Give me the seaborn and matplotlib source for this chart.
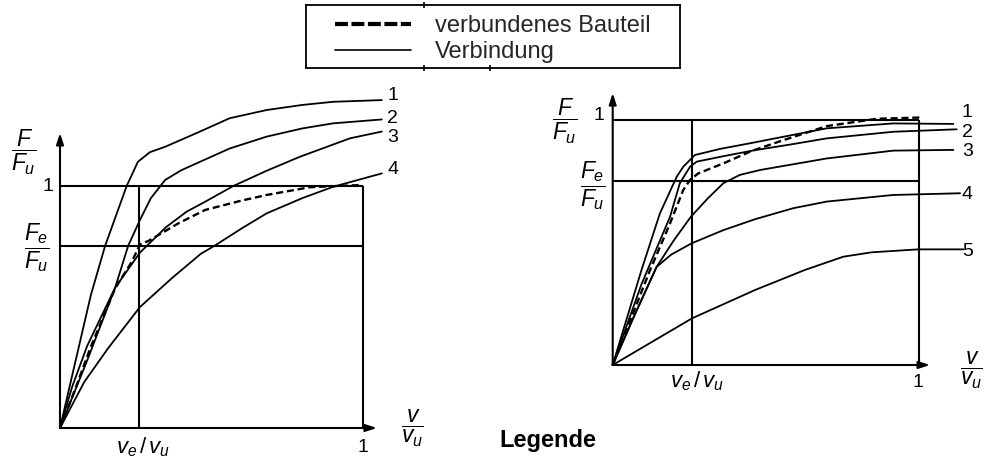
import numpy as np
import pandas as pd
import matplotlib
matplotlib.use("Agg")
import matplotlib.pyplot as plt
from matplotlib.lines import Line2D
import seaborn as sns

sns.set_theme(style="white")
plt.rcParams["font.family"] = ["Liberation Sans", "DejaVu Sans"]
plt.rcParams["mathtext.fontset"] = "custom"
plt.rcParams["mathtext.rm"] = "Liberation Sans"
plt.rcParams["mathtext.it"] = "Liberation Sans:italic"
plt.rcParams["mathtext.bf"] = "Liberation Sans:bold"

# ---- left diagram: load-slip curves of connections 1-4 and the connected member
left_fe = 0.752          # F_e / F_u
left_ve = 0.26           # v_e / v_u
left_x1 = [0, 0.05, 0.102, 0.149, 0.22, 0.257, 0.297, 0.347, 0.462, 0.56, 0.682, 0.80, 0.902, 1.062]
left_y1 = [0, 0.27, 0.55, 0.753, 1.0, 1.10, 1.14, 1.162, 1.225, 1.28, 1.314, 1.335, 1.348, 1.355]
left_x2 = [0, 0.09, 0.182, 0.225, 0.264, 0.30, 0.347, 0.40, 0.462, 0.56, 0.682, 0.80, 0.902, 1.062]
left_y2 = [0, 0.28, 0.58, 0.753, 0.86, 0.95, 1.025, 1.065, 1.10, 1.155, 1.204, 1.238, 1.259, 1.275]
left_x3 = [0, 0.04, 0.09, 0.182, 0.264, 0.35, 0.418, 0.479, 0.572, 0.682, 0.792, 0.957, 1.062]
left_y3 = [0, 0.17, 0.34, 0.58, 0.725, 0.83, 0.894, 0.935, 1.0, 1.063, 1.121, 1.197, 1.225]
left_x4 = [0, 0.08, 0.159, 0.264, 0.37, 0.465, 0.51, 0.60, 0.682, 0.80, 0.902, 1.062]
left_y4 = [0, 0.19, 0.33, 0.50, 0.62, 0.72, 0.753, 0.825, 0.887, 0.95, 0.997, 1.052]
left_xm = [0, 0.05, 0.10, 0.182, 0.237, 0.264, 0.292, 0.391, 0.479, 0.60, 0.682, 0.825, 0.99]
left_ym = [0, 0.16, 0.33, 0.577, 0.687, 0.759, 0.773, 0.846, 0.901, 0.94, 0.963, 0.995, 1.004]
left_labels = ["1", "2", "3", "4"]
left_label_x = [1.100, 1.098, 1.098, 1.098]
left_label_y = [1.372, 1.278, 1.200, 1.069]

# ---- right diagram: connections 1-5 and the connected member
right_fe = 0.751
right_ve = 0.258
right_x1 = [0, 0.094, 0.154, 0.209, 0.23, 0.268, 0.35, 0.448, 0.55, 0.698, 0.915, 1.111]
right_y1 = [0, 0.388, 0.619, 0.769, 0.809, 0.857, 0.882, 0.905, 0.93, 0.966, 0.986, 0.984]
right_x2 = [0, 0.094, 0.187, 0.219, 0.252, 0.274, 0.36, 0.46, 0.58, 0.698, 0.915, 1.122]
right_y2 = [0, 0.33, 0.605, 0.742, 0.809, 0.83, 0.852, 0.876, 0.90, 0.925, 0.952, 0.962]
right_x3 = [0, 0.07, 0.143, 0.20, 0.255, 0.31, 0.361, 0.415, 0.481, 0.698, 0.915, 1.111]
right_y3 = [0, 0.20, 0.40, 0.51, 0.605, 0.68, 0.742, 0.776, 0.796, 0.843, 0.875, 0.878]
right_x4 = [0, 0.07, 0.143, 0.19, 0.258, 0.36, 0.464, 0.589, 0.698, 0.915, 1.133]
right_y4 = [0, 0.20, 0.40, 0.45, 0.497, 0.55, 0.595, 0.64, 0.667, 0.694, 0.701]
right_x5 = [0, 0.258, 0.464, 0.627, 0.752, 0.845, 0.997, 1.144]
right_y5 = [0, 0.19, 0.306, 0.388, 0.442, 0.460, 0.472, 0.472]
right_xm = [0, 0.122, 0.187, 0.23, 0.252, 0.279, 0.361, 0.45, 0.55, 0.698, 0.861, 1.0]
right_ym = [0, 0.388, 0.578, 0.714, 0.755, 0.782, 0.823, 0.872, 0.915, 0.975, 1.005, 1.01]
right_labels = ["1", "2", "3", "4", "5"]
right_label_x = [1.155, 1.157, 1.157, 1.157, 1.157]
right_label_y = [1.030, 0.950, 0.871, 0.694, 0.462]

legend_texts = ["verbundenes Bauteil", "Verbindung"]

W, H = 985, 461
fig = plt.figure(figsize=(W / 100, H / 100), dpi=100)
fig.patch.set_facecolor("white")


def place_axes(ox, oy, sx, sy, xlim, ylim):
    """Axes whose data origin sits at pixel (ox, oy) with sx, sy pixels per unit."""
    l = (ox + xlim[0] * sx) / W
    w = (xlim[1] - xlim[0]) * sx / W
    b = (H - (oy - ylim[0] * sy)) / H
    h = (ylim[1] - ylim[0]) * sy / H
    ax = fig.add_axes([l, b, w, h])
    ax.set_xlim(*xlim)
    ax.set_ylim(*ylim)
    ax.set_axis_off()
    return ax


def frame(ax, fe, ve, x_tip, y_tip):
    kw = dict(color="black", lw=1.5, zorder=1)
    ax.hlines([1.0, fe], 0, 1, **kw)
    ax.vlines([ve, 1.0], 0, 1, **kw)
    arrow = dict(arrowstyle="-|>,head_length=0.55,head_width=0.18", color="black",
                 lw=1.5, shrinkA=0, shrinkB=0, mutation_scale=12)
    ax.annotate("", xy=(x_tip, 0), xytext=(0, 0), arrowprops=arrow)
    ax.annotate("", xy=(0, y_tip), xytext=(0, 0), arrowprops=arrow)


def curves(ax, solid, member):
    for xs, ys in solid:
        d = pd.DataFrame({"v": xs, "F": ys})
        sns.lineplot(data=d, x="v", y="F", ax=ax, color="black", lw=1.3,
                     sort=False, estimator=None, zorder=3)
    d = pd.DataFrame({"v": member[0], "F": member[1]})
    sns.lineplot(data=d, x="v", y="F", ax=ax, color="black", lw=1.7,
                 linestyle=(0, (3.0, 1.6)), sort=False, estimator=None, zorder=4)
    ax.set_xlabel("")
    ax.set_ylabel("")


frac_kw = dict(fontsize=16.5, ha="center", va="center", color="black")
num_kw = dict(fontsize=14, ha="center", va="center", color="black")
sub_kw = dict(fontsize=16, ha="center", va="center", color="black")

# left diagram
axL = place_axes(60, 428, 303, 242, (-0.19, 1.22), (-0.10, 1.45))
frame(axL, left_fe, left_ve, 1.046, 1.219)
curves(axL, [(left_x1, left_y1), (left_x2, left_y2), (left_x3, left_y3), (left_x4, left_y4)],
       (left_xm, left_ym))
for t, x, y in zip(left_labels, left_label_x, left_label_y):
    axL.text(x, y, t, **num_kw)
axL.text(-0.119, 1.14, r"$\dfrac{F}{F_u}$", **frac_kw)
axL.text(-0.076, 0.744, r"$\dfrac{F_e}{F_u}$", **frac_kw)
axL.text(-0.04, 0.996, "1", **num_kw)
axL.text(0.274, -0.079, r"$v_e\,/\,v_u$", **sub_kw)
axL.text(1.0, -0.079, "1", **num_kw)
axL.text(1.165, 0.0, r"$\dfrac{v}{v_u}$", **frac_kw)

# right diagram
axR = place_axes(612.7, 365, 306.6, 245, (-0.25, 1.21), (-0.30, 1.15))
frame(axR, right_fe, right_ve, 1.035, 1.11)
curves(axR, [(right_x1, right_y1), (right_x2, right_y2), (right_x3, right_y3),
             (right_x4, right_y4), (right_x5, right_y5)], (right_xm, right_ym))
for t, x, y in zip(right_labels, right_label_x, right_label_y):
    axR.text(x, y, t, **num_kw)
axR.text(-0.156, 0.995, r"$\dfrac{F}{F_u}$", **frac_kw)
axR.text(-0.064, 0.731, r"$\dfrac{F_e}{F_u}$", **frac_kw)
axR.text(-0.045, 1.02, "1", **num_kw)
axR.text(0.274, -0.068, r"$v_e\,/\,v_u$", **sub_kw)
axR.text(0.996, -0.073, "1", **num_kw)
axR.text(1.171, -0.024, r"$\dfrac{v}{v_u}$", **frac_kw)

# legend box
bx0, by0, bx1, by1 = 306, 5, 680, 68
axLeg = fig.add_axes([bx0 / W, (H - by1) / H, (bx1 - bx0) / W, (by1 - by0) / H])
axLeg.set_xlim(0, bx1 - bx0)
axLeg.set_ylim(0, 1)
axLeg.set_facecolor("white")
for s in axLeg.spines.values():
    s.set_visible(True)
    s.set_color("black")
    s.set_linewidth(1.3)
axLeg.set_yticks([])
axLeg.set_xticks([424 - bx0])
axLeg.set_xticks([490 - bx0], minor=True)
axLeg.tick_params(axis="x", which="major", direction="inout", length=4, width=1.2,
                  top=True, bottom=True, labelbottom=False, color="black")
axLeg.tick_params(axis="x", which="minor", direction="inout", length=4, width=1.2,
                  top=False, bottom=True, labelbottom=False, color="black")
handles = [Line2D([], [], color="black", lw=3.0, linestyle=(0, (3.1, 0.85))),
           Line2D([], [], color="black", lw=1.2)]
axLeg.legend(handles, legend_texts, loc="center left", bbox_to_anchor=(29 / (bx1 - bx0), 0.46),
             frameon=False, fontsize=17, handlelength=3.2, handletextpad=1.05,
             labelspacing=0.15, borderpad=0, borderaxespad=0)

fig.text(548 / W, 1 - 440 / H, "Legende", fontsize=17, fontweight="bold",
         ha="center", va="center", color="black")

fig.savefig("out.png", dpi=100, facecolor="white")
